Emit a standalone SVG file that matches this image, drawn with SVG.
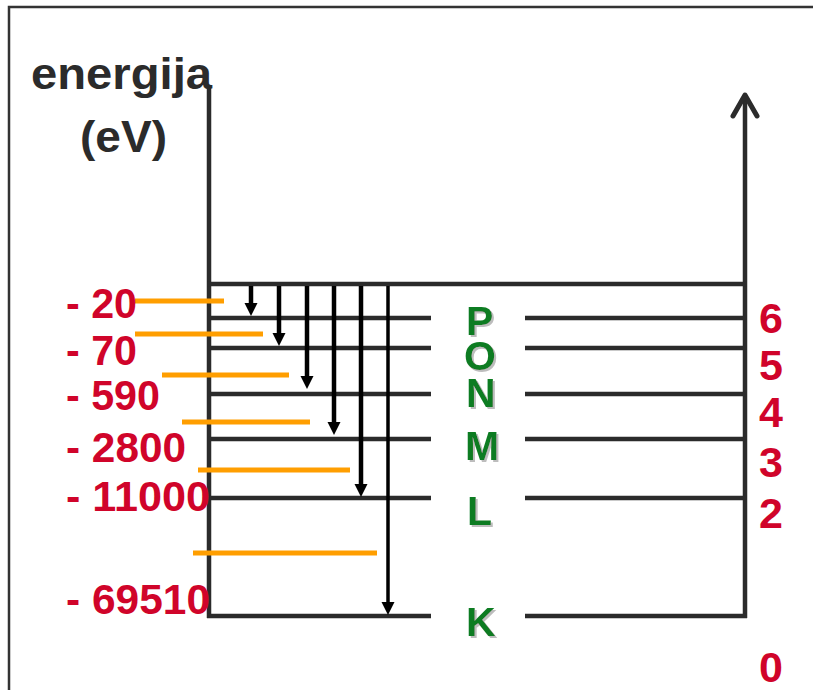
<svg xmlns="http://www.w3.org/2000/svg" width="813" height="690" viewBox="0 0 813 690">
<style>
.frame{fill:none;stroke:#333;stroke-width:2.5}
.ax{fill:none;stroke:#2b2b2b;stroke-width:4.5;stroke-linecap:butt}
.lvl{stroke:#2b2b2b;stroke-width:4.5}
.arr{stroke:#000;stroke-width:4.5}
.or{stroke:#FF9E00;stroke-width:5}
.title{font-family:"Liberation Sans",Arial,sans-serif;font-weight:bold;font-size:45px;fill:#2b2b2b}
.ev{font-family:"Liberation Sans",Arial,sans-serif;font-weight:bold;font-size:43px;fill:#D0042A}
.sh{font-family:"Liberation Sans",Arial,sans-serif;font-weight:bold;font-size:41px;fill:#0E7C22;filter:url(#shadow)}
</style>
<defs>
<path id="head" d="M-6.5,-13 L6.5,-13 L0,0 Z" fill="#000"/>
<filter id="shadow" x="-20%" y="-20%" width="150%" height="150%">
<feDropShadow dx="2" dy="2" stdDeviation="0.4" flood-color="#BDBDBD" flood-opacity="1"/>
</filter>
</defs>
<rect class="frame" x="9" y="7" width="820" height="700"/>
<g id="axes">
<path class="ax" d="M209,88 V618"/>
<path class="ax" d="M745,97 V618"/>
<path d="M733,116 L745,95 L757,116" fill="none" stroke="#2b2b2b" stroke-width="5" stroke-linecap="round" stroke-linejoin="round"/>
<text class="title" x="31" y="89" textLength="181" lengthAdjust="spacingAndGlyphs">energija</text>
<text class="title" x="80" y="152" textLength="87" lengthAdjust="spacingAndGlyphs">(eV)</text>
</g>
<g id="levels">
<line class="lvl" x1="207" y1="284" x2="747" y2="284"/>
<line class="lvl" x1="209" y1="318" x2="431" y2="318"/><line class="lvl" x1="525" y1="318" x2="745" y2="318"/>
<line class="lvl" x1="209" y1="348" x2="431" y2="348"/><line class="lvl" x1="525" y1="348" x2="745" y2="348"/>
<line class="lvl" x1="209" y1="394" x2="431" y2="394"/><line class="lvl" x1="525" y1="394" x2="745" y2="394"/>
<line class="lvl" x1="209" y1="439" x2="431" y2="439"/><line class="lvl" x1="525" y1="439" x2="745" y2="439"/>
<line class="lvl" x1="209" y1="498" x2="431" y2="498"/><line class="lvl" x1="525" y1="498" x2="745" y2="498"/>
<line class="lvl" x1="207" y1="616" x2="431" y2="616"/><line class="lvl" x1="525" y1="616" x2="747" y2="616"/>
</g>
<g id="orange">
<line class="or" x1="135" y1="301" x2="224" y2="301"/>
<line class="or" x1="135" y1="334" x2="263" y2="334"/>
<line class="or" x1="162" y1="375" x2="289" y2="375"/>
<line class="or" x1="182" y1="422" x2="310" y2="422"/>
<line class="or" x1="198" y1="470" x2="350" y2="470"/>
<line class="or" x1="193" y1="553" x2="377" y2="553"/>
</g>
<g id="connectors">
<line class="arr" x1="251" y1="286" x2="251" y2="304"/><use href="#head" x="251" y="316"/>
<line class="arr" x1="279" y1="286" x2="279" y2="334"/><use href="#head" x="279" y="346"/>
<line class="arr" x1="307" y1="286" x2="307" y2="377"/><use href="#head" x="307" y="389"/>
<line class="arr" x1="334" y1="286" x2="334" y2="423"/><use href="#head" x="334" y="435"/>
<line class="arr" x1="361" y1="286" x2="361" y2="485"/><use href="#head" x="361" y="497"/>
<line class="arr" x1="388" y1="286" x2="388" y2="603" style="stroke-width:3.5"/><use href="#head" x="388" y="615"/>
</g>
<g id="energies">
<text class="ev" x="66" y="318" textLength="71" lengthAdjust="spacingAndGlyphs">- 20</text>
<text class="ev" x="66" y="365" textLength="71" lengthAdjust="spacingAndGlyphs">- 70</text>
<text class="ev" x="66" y="410" textLength="94" lengthAdjust="spacingAndGlyphs">- 590</text>
<text class="ev" x="66" y="462" textLength="120" lengthAdjust="spacingAndGlyphs">- 2800</text>
<text class="ev" x="66" y="511" textLength="144" lengthAdjust="spacingAndGlyphs">- 11000</text>
<text class="ev" x="66" y="614" textLength="144" lengthAdjust="spacingAndGlyphs">- 69510</text>
</g>
<g id="numbers">
<text class="ev" x="759" y="333">6</text>
<text class="ev" x="759" y="380">5</text>
<text class="ev" x="759" y="427">4</text>
<text class="ev" x="759" y="477">3</text>
<text class="ev" x="759" y="528">2</text>
<text class="ev" x="759" y="682">0</text>
</g>
<g id="shells" class="sh">
<text x="466" y="335">P</text><text x="464" y="370">O</text><text x="466" y="407">N</text>
<text x="465" y="460">M</text><text x="467" y="525">L</text><text x="466" y="636">K</text>
</g>
</svg>
